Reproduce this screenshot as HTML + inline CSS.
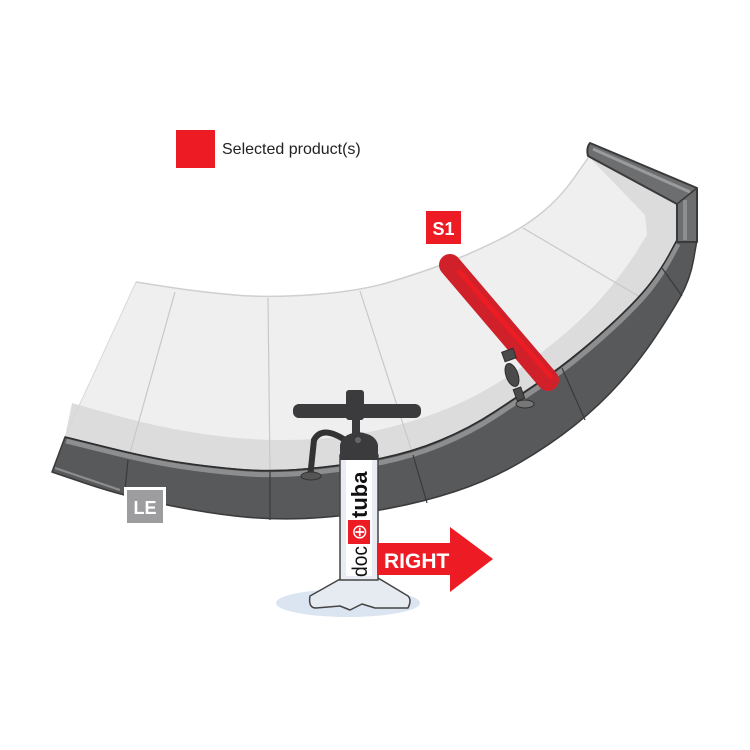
<!DOCTYPE html>
<html><head><meta charset="utf-8"><style>
html,body{margin:0;padding:0;background:#fff}
svg{display:block}
text{font-family:"Liberation Sans",sans-serif}
</style></head><body>
<svg width="750" height="750" viewBox="0 0 750 750" xmlns="http://www.w3.org/2000/svg">
<defs>
<path id="rimtop" d="M65,437 L107.5,447.5 Q150,458 180,462.5 Q210,467 240,469.5 Q270,472 305,469 Q340,466 375,459.5 Q410,453 440,440.5 Q470,428 495,411.5 Q520,395 540,381.5 Q560,368 580,351.5 Q600,335 620,316 Q640,297 651,282.5 Q662,268 669.5,254 L677,240"/>
</defs>
<rect x="176" y="130" width="39" height="38" fill="#ed1c24"/>
<text x="222" y="154" font-size="16" fill="#222">Selected product(s)</text>

<path d="M136,282 L168,287 Q200,292 235,295 Q270,298 315,294.5 Q360,291 390,282 Q420,273 445,263.5 Q470,254 496.5,241 Q523,228 541.5,213 Q560,198 574,178 L588,158 L592,150 L680,198 L680,245 L677,240 L669.5,254 Q662,268 651,282.5 Q640,297 620,316 Q600,335 580,351.5 Q560,368 540,381.5 Q520,395 495,411.5 Q470,428 440,440.5 Q410,453 375,459.5 Q340,466 305,469 Q270,472 240,469.5 Q210,467 180,462.5 Q150,458 107.5,447.5 L65,437 Z" fill="#efefef"/>
<path d="M72,403 L111,414 Q150,425 185,431 Q220,437 250,439 Q280,441 315,439 Q350,437 385,428.5 Q420,420 450,407.5 Q480,395 510,375 Q540,355 565,333.5 Q590,312 607.5,291 Q625,270 636,252.5 L647,235 L645,215 L592,160 L600,150 L680,198 L680,245 L677,240 L669.5,254 Q662,268 651,282.5 Q640,297 620,316 Q600,335 580,351.5 Q560,368 540,381.5 Q520,395 495,411.5 Q470,428 440,440.5 Q410,453 375,459.5 Q340,466 305,469 Q270,472 240,469.5 Q210,467 180,462.5 Q150,458 107.5,447.5 L65,437 Z" fill="#dcdcdd"/>
<path d="M136,282 L168,287 Q200,292 235,295 Q270,298 315,294.5 Q360,291 390,282 Q420,273 445,263.5 Q470,254 496.5,241 Q523,228 541.5,213 Q560,198 574,178 L588,158" fill="none" stroke="#cfcfcf" stroke-width="1.5"/>
<path d="M136,282 L67,432" stroke="#d8d8d8" stroke-width="1"/>
<g stroke="#c8c8c8" stroke-width="1.2" fill="none">
<path d="M175,292 L128,460"/>
<path d="M268,298 L270,472"/>
<path d="M360,291 L413,455"/>
<path d="M523,228 L640,297"/>
</g>
<path d="M65,437 L107.5,447.5 Q150,458 180,462.5 Q210,467 240,469.5 Q270,472 305,469 Q340,466 375,459.5 Q410,453 440,440.5 Q470,428 495,411.5 Q520,395 540,381.5 Q560,368 580,351.5 Q600,335 620,316 Q640,297 651,282.5 Q662,268 669.5,254 L677,240 L697,240 L693.5,260 Q690,280 680,297.5 Q670,315 655,337.5 Q640,360 620,382.5 Q600,405 575,425 Q550,445 520,462.5 Q490,480 455,491.5 Q420,503 380,510 Q340,517 305,518.5 Q270,520 235,516 Q200,512 160,503.5 Q120,495 86,483.5 L52,472 Z" fill="#58595b" stroke="#3a3a3a" stroke-width="1.5" stroke-linejoin="round"/>
<use href="#rimtop" transform="translate(1,4)" fill="none" stroke="#8d8e90" stroke-width="5"/>
<use href="#rimtop" fill="none" stroke="#2e2e2e" stroke-width="1.5"/>
<path d="M55,468 L120,490" stroke="#8d8e90" stroke-width="2"/>
<g stroke="#3a3a3a" stroke-width="1.2">
<path d="M128,460 L125,490"/><path d="M270,472 L270,520"/><path d="M413,455 L427,503"/><path d="M562,368 L585,420"/><path d="M662,268 L682,296"/>
</g>
<path d="M590,143 Q586,148 588,156 L677,204 L677,242 L697,242 L697,188 Z" fill="#6d6e70" stroke="#3a3a3a" stroke-width="2" stroke-linejoin="round"/>
<path d="M593,149 L690,192" stroke="#9a9b9d" stroke-width="3"/>
<path d="M685,200 L685,240" stroke="#8d8e90" stroke-width="4"/>
<path d="M677,204 L697,188" stroke="#3a3a3a" stroke-width="1.5"/>

<rect x="426" y="211" width="35" height="33" fill="#ed1c24"/>
<text x="443.5" y="235" font-size="18" font-weight="bold" fill="#fff" text-anchor="middle">S1</text>
<line x1="450" y1="265" x2="548" y2="380" stroke="#d0202a" stroke-width="22" stroke-linecap="round"/>
<line x1="458" y1="270" x2="552" y2="378" stroke="#ec1c24" stroke-width="5"/>
<g fill="#4a4a4a" stroke="#2e2e2e" stroke-width="1">
<rect x="503" y="350" width="12" height="10" transform="rotate(-20 509 355)"/>
<ellipse cx="512" cy="375" rx="6" ry="12" transform="rotate(-20 512 375)"/>
<rect x="515" y="388" width="8" height="12" transform="rotate(-20 519 394)"/>
<ellipse cx="525" cy="404" rx="9" ry="4" fill="#777"/>
</g>

<rect x="124" y="487" width="42" height="39" fill="#fff"/>
<rect x="127" y="490" width="36" height="33" fill="#9d9d9f"/>
<text x="145" y="514" font-size="18" font-weight="bold" fill="#fff" text-anchor="middle">LE</text>

<ellipse cx="348" cy="603" rx="72" ry="14" fill="#dbe5f1"/>
<path d="M345,440 Q322,425 314,440 L310,478" fill="none" stroke="#333" stroke-width="6"/>
<ellipse cx="311" cy="476" rx="10" ry="4" fill="#555" stroke="#333"/>
<rect x="293" y="404" width="128" height="14" rx="6" fill="#3b3b3d"/>
<rect x="346" y="390" width="18" height="30" rx="3" fill="#3b3b3d"/>
<rect x="352" y="416" width="8" height="20" fill="#3b3b3d"/>
<path d="M342,578 L310,596 Q308,608 316,608 L340,606 L350,610 L362,604 L375,608 L408,608 Q412,600 408,596 L378,578 Z" fill="#e6ebf2" stroke="#444" stroke-width="1.5" stroke-linejoin="round"/>
<rect x="340" y="455" width="38" height="125" fill="#e9edf3" stroke="#444" stroke-width="1.5"/>
<rect x="346" y="458" width="26" height="118" fill="#fff"/>
<path d="M340,460 L340,445 Q342,434 358,432 Q376,434 378,445 L378,460 Z" fill="#3b3b3d"/>
<circle cx="358" cy="440" r="3" fill="#666"/>
<rect x="348" y="520" width="22" height="24" fill="#ed1c24"/>
<g transform="translate(366,532) rotate(-90)"><text x="0" y="0" font-size="20" fill="#fff" text-anchor="middle">⊕</text></g>
<g transform="translate(367,577) rotate(-90)"><text x="0" y="0" font-size="21" fill="#111" textLength="31" lengthAdjust="spacingAndGlyphs">doc</text></g>
<g transform="translate(367,518) rotate(-90)"><text x="0" y="0" font-size="22" fill="#111" font-weight="bold">tuba</text></g>
<path d="M377,543 L450,543 L450,527 L493,559 L450,592 L450,575 L377,575 Z" fill="#ed1c24"/>
<text x="384" y="568" font-size="21" font-weight="bold" fill="#fff">RIGHT</text>
</svg>
</body></html>
